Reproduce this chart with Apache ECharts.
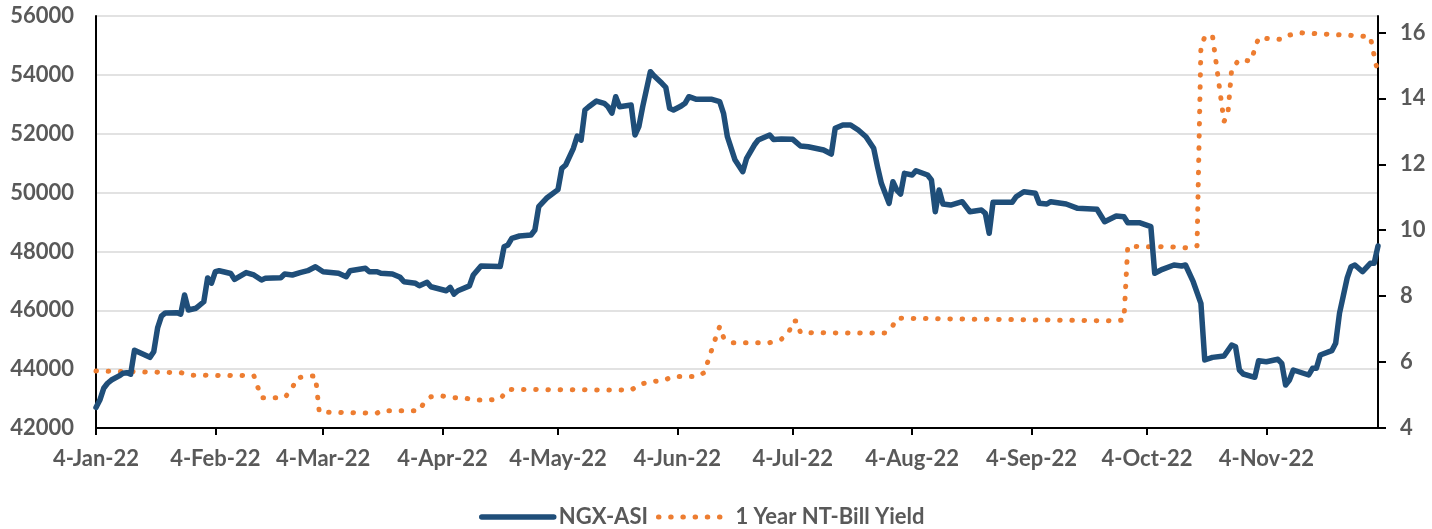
<!DOCTYPE html>
<html>
<head>
<meta charset="utf-8">
<script src="https://cdn.jsdelivr.net/npm/echarts@6/dist/echarts.min.js"></script>
<style>
  html, body { margin: 0; padding: 0; background: #ffffff; }
  #chart { width: 1432px; height: 529px; }
</style>
</head>
<body>
<div id="chart"></div>
<script>
// ---- Data ----
const startDay = '4-Jan-22';
const endDay = '3-Dec-22';
const monthNames = ['Jan','Feb','Mar','Apr','May','Jun','Jul','Aug','Sep','Oct','Nov','Dec'];

const leftTicks = [42000, 44000, 46000, 48000, 50000, 52000, 54000, 56000];
const rightTicks = [4, 6, 8, 10, 12, 14, 16];

const ngxAsi = [
  ['4-Jan-22', 42700], ['5-Jan-22', 42950], ['6-Jan-22', 43350], ['7-Jan-22', 43520],
  ['8-Jan-22', 43630], ['10-Jan-22', 43770], ['11-Jan-22', 43860], ['12-Jan-22', 43880],
  ['13-Jan-22', 43830], ['14-Jan-22', 44640], ['18-Jan-22', 44400], ['19-Jan-22', 44590],
  ['20-Jan-22', 45400], ['21-Jan-22', 45800], ['22-Jan-22', 45910], ['25-Jan-22', 45920],
  ['26-Jan-22', 45870], ['27-Jan-22', 46520], ['28-Jan-22', 46010], ['30-Jan-22', 46070],
  ['1-Feb-22', 46290], ['2-Feb-22', 47100], ['3-Feb-22', 46920], ['4-Feb-22', 47310],
  ['5-Feb-22', 47345], ['8-Feb-22', 47250], ['9-Feb-22', 47050], ['12-Feb-22', 47280],
  ['14-Feb-22', 47200], ['16-Feb-22', 47030], ['17-Feb-22', 47087], ['21-Feb-22', 47107],
  ['22-Feb-22', 47233], ['24-Feb-22', 47199], ['26-Feb-22', 47277], ['28-Feb-22', 47345],
  ['2-Mar-22', 47481], ['4-Mar-22', 47311], ['8-Mar-22', 47256], ['10-Mar-22', 47142],
  ['11-Mar-22', 47345], ['15-Mar-22', 47426], ['16-Mar-22', 47311], ['18-Mar-22', 47311],
  ['19-Mar-22', 47256], ['22-Mar-22', 47233], ['24-Mar-22', 47120], ['25-Mar-22', 46971],
  ['28-Mar-22', 46917], ['29-Mar-22', 46835], ['31-Mar-22', 46950], ['1-Apr-22', 46801],
  ['5-Apr-22', 46665], ['6-Apr-22', 46781], ['7-Apr-22', 46553], ['8-Apr-22', 46665],
  ['11-Apr-22', 46830], ['12-Apr-22', 47199], ['14-Apr-22', 47505], ['19-Apr-22', 47490],
  ['20-Apr-22', 48160], ['21-Apr-22', 48220], ['22-Apr-22', 48446], ['24-Apr-22', 48524],
  ['27-Apr-22', 48558], ['28-Apr-22', 48728], ['29-Apr-22', 49520], ['1-May-22', 49806],
  ['4-May-22', 50100], ['5-May-22', 50825], ['6-May-22', 50937], ['8-May-22', 51505],
  ['9-May-22', 51922], ['10-May-22', 51780], ['11-May-22', 52805], ['12-May-22', 52917],
  ['14-May-22', 53111], ['16-May-22', 53033], ['17-May-22', 52917], ['18-May-22', 52700],
  ['19-May-22', 53257], ['20-May-22', 52917], ['23-May-22', 52975], ['24-May-22', 51956],
  ['25-May-22', 52238], ['26-May-22', 52917], ['28-May-22', 54107], ['29-May-22', 53961],
  ['31-May-22', 53712], ['1-Jun-22', 53577], ['2-Jun-22', 52863], ['3-Jun-22', 52805],
  ['5-Jun-22', 52941], ['6-Jun-22', 53033], ['7-Jun-22', 53257], ['9-Jun-22', 53169],
  ['13-Jun-22', 53169], ['15-Jun-22', 53088], ['16-Jun-22', 52693], ['17-Jun-22', 51898],
  ['19-Jun-22', 51106], ['21-Jun-22', 50709], ['22-Jun-22', 51164], ['24-Jun-22', 51616],
  ['25-Jun-22', 51786], ['28-Jun-22', 51956], ['29-Jun-22', 51800], ['1-Jul-22', 51820],
  ['4-Jul-22', 51809], ['6-Jul-22', 51582], ['8-Jul-22', 51558], ['12-Jul-22', 51446],
  ['14-Jul-22', 51310], ['15-Jul-22', 52183], ['17-Jul-22', 52296], ['19-Jul-22', 52296],
  ['21-Jul-22', 52126], ['23-Jul-22', 51898], ['25-Jul-22', 51505], ['26-Jul-22', 50879],
  ['27-Jul-22', 50315], ['29-Jul-22', 49635], ['30-Jul-22', 50369], ['31-Jul-22', 50087],
  ['1-Aug-22', 49950], ['2-Aug-22', 50654], ['4-Aug-22', 50597], ['5-Aug-22', 50743],
  ['8-Aug-22', 50597], ['9-Aug-22', 50430], ['10-Aug-22', 49350], ['11-Aug-22', 50087],
  ['12-Aug-22', 49611], ['14-Aug-22', 49577], ['17-Aug-22', 49690], ['19-Aug-22', 49350],
  ['22-Aug-22', 49407], ['23-Aug-22', 49295], ['24-Aug-22', 48615], ['25-Aug-22', 49669],
  ['30-Aug-22', 49669], ['31-Aug-22', 49860], ['2-Sep-22', 50030], ['5-Sep-22', 49975],
  ['6-Sep-22', 49635], ['8-Sep-22', 49611], ['9-Sep-22', 49690], ['13-Sep-22', 49611],
  ['16-Sep-22', 49465], ['21-Sep-22', 49431], ['23-Sep-22', 49010], ['26-Sep-22', 49203],
  ['28-Sep-22', 49180], ['29-Sep-22', 48976], ['2-Oct-22', 48976], ['5-Oct-22', 48840],
  ['6-Oct-22', 47260], ['8-Oct-22', 47392], ['11-Oct-22', 47539], ['13-Oct-22', 47505],
  ['14-Oct-22', 47539], ['16-Oct-22', 46971], ['18-Oct-22', 46237], ['19-Oct-22', 44311],
  ['21-Oct-22', 44400], ['24-Oct-22', 44447], ['26-Oct-22', 44820], ['27-Oct-22', 44763],
  ['28-Oct-22', 43971], ['29-Oct-22', 43835], ['1-Nov-22', 43723], ['2-Nov-22', 44287],
  ['4-Nov-22', 44253], ['7-Nov-22', 44334], ['8-Nov-22', 44198], ['9-Nov-22', 43461],
  ['10-Nov-22', 43630], ['11-Nov-22', 43971], ['15-Nov-22', 43801], ['16-Nov-22', 44029],
  ['17-Nov-22', 44029], ['18-Nov-22', 44480], ['21-Nov-22', 44627], ['22-Nov-22', 44878],
  ['23-Nov-22', 45900], ['24-Nov-22', 46500], ['25-Nov-22', 47100], ['26-Nov-22', 47481],
  ['27-Nov-22', 47539], ['29-Nov-22', 47311], ['1-Dec-22', 47596], ['2-Dec-22', 47596],
  ['3-Dec-22', 48184]
];

const tBillYield = [
  ['4-Jan-22', 5.73], ['26-Jan-22', 5.68], ['29-Jan-22', 5.60], ['14-Feb-22', 5.59],
  ['15-Feb-22', 5.25], ['16-Feb-22', 4.92], ['22-Feb-22', 4.92], ['24-Feb-22', 5.20],
  ['25-Feb-22', 5.51], ['27-Feb-22', 5.56], ['2-Mar-22', 5.58], ['3-Mar-22', 4.48],
  ['18-Mar-22', 4.45], ['19-Mar-22', 4.52], ['29-Mar-22', 4.52], ['30-Mar-22', 4.73],
  ['1-Apr-22', 4.95], ['4-Apr-22', 4.97], ['7-Apr-22', 4.92], ['10-Apr-22', 4.90],
  ['13-Apr-22', 4.85], ['16-Apr-22', 4.85], ['19-Apr-22', 4.88], ['21-Apr-22', 5.17],
  ['23-May-22', 5.15], ['25-May-22', 5.31], ['28-May-22', 5.41], ['31-May-22', 5.43],
  ['3-Jun-22', 5.56], ['9-Jun-22', 5.56], ['11-Jun-22', 5.68], ['12-Jun-22', 6.04],
  ['13-Jun-22', 6.40], ['14-Jun-22', 6.75], ['15-Jun-22', 7.08], ['16-Jun-22', 6.75],
  ['18-Jun-22', 6.59], ['28-Jun-22', 6.59], ['1-Jul-22', 6.69], ['3-Jul-22', 6.91],
  ['4-Jul-22', 7.25], ['5-Jul-22', 7.25], ['6-Jul-22', 6.89], ['28-Jul-22', 6.88],
  ['30-Jul-22', 7.11], ['31-Jul-22', 7.33], ['26-Sep-22', 7.25], ['28-Sep-22', 7.28],
  ['29-Sep-22', 9.51], ['12-Oct-22', 9.49], ['15-Oct-22', 9.46], ['17-Oct-22', 9.53],
  ['18-Oct-22', 15.55], ['19-Oct-22', 15.87], ['21-Oct-22', 15.91], ['24-Oct-22', 13.30],
  ['25-Oct-22', 13.53], ['26-Oct-22', 14.90], ['28-Oct-22', 15.18], ['31-Oct-22', 15.13],
  ['1-Nov-22', 15.50], ['2-Nov-22', 15.84], ['5-Nov-22', 15.81], ['8-Nov-22', 15.79],
  ['10-Nov-22', 15.92], ['13-Nov-22', 15.99], ['19-Nov-22', 15.95], ['25-Nov-22', 15.92],
  ['1-Dec-22', 15.87], ['2-Dec-22', 15.30], ['3-Dec-22', 14.75]
];

// ---- Build the daily category axis (calendar days) ----
function parseDay(s) {
  const p = s.split('-');
  return Date.UTC(2000 + Number(p[2]), monthNames.indexOf(p[1]), Number(p[0]));
}
function fmtDay(t) {
  const d = new Date(t);
  return d.getUTCDate() + '-' + monthNames[d.getUTCMonth()] + '-' + String(d.getUTCFullYear()).slice(2);
}
const categories = [];
for (let t = parseDay(startDay); t <= parseDay(endDay); t += 86400000) categories.push(fmtDay(t));
const catIndex = {};
categories.forEach((c, i) => { catIndex[c] = i; });
const toPoints = arr => arr.map(([d, v]) => [catIndex[d], v]);
const isMonthTick = (i, v) => /^4-/.test(v);

const FONT = 'Lato';
const GREY = '#595959';
const BLUE = '#1F4E79';
const ORANGE = '#ED7D31';
const DOTS = [0.5, 11.7];

const chart = echarts.init(document.getElementById('chart'), null, { renderer: 'canvas' });
chart.setOption({
  animation: false,
  backgroundColor: '#ffffff',
  grid: { left: 96, right: 54, top: 16, bottom: 101 },
  legend: {
    left: 479, top: 506, padding: 0,
    itemWidth: 72, itemHeight: 22, itemGap: 8,
    itemStyle: { opacity: 0 },
    textStyle: { color: GREY, fontFamily: FONT, fontWeight: 'bold', fontSize: 22 },
    data: [
      { name: 'NGX-ASI', lineStyle: { width: 5.5, color: BLUE, cap: 'round' } },
      { name: '1 Year NT-Bill Yield', lineStyle: { width: 5, color: ORANGE, type: DOTS, cap: 'round' } }
    ]
  },
  xAxis: {
    type: 'category',
    data: categories,
    boundaryGap: false,
    axisLine: { lineStyle: { color: '#000', width: 2 } },
    axisTick: { show: true, interval: isMonthTick, length: 7, lineStyle: { color: '#000', width: 2 } },
    axisLabel: {
      interval: isMonthTick, margin: 20,
      color: GREY, fontFamily: FONT, fontWeight: 'bold', fontSize: 22
    },
    splitLine: { show: false }
  },
  yAxis: [
    {
      type: 'value', position: 'left',
      min: leftTicks[0], max: leftTicks[leftTicks.length - 1], interval: 2000,
      axisLine: { show: true, lineStyle: { color: '#000', width: 2 } },
      axisTick: { show: false },
      axisLabel: {
        margin: 22, color: GREY, fontFamily: FONT, fontWeight: 'bold', fontSize: 22,
        formatter: v => String(v)
      },
      splitLine: { show: true, lineStyle: { color: '#D9D9D9', width: 1.5 } }
    },
    {
      type: 'value', position: 'right',
      min: 4, max: 16.5, interval: 2,
      axisLine: { show: true, lineStyle: { color: '#000', width: 2 } },
      axisTick: { show: true, length: 8, customValues: rightTicks, lineStyle: { color: '#000', width: 2 } },
      axisLabel: {
        margin: 22, customValues: rightTicks, color: GREY, fontFamily: FONT, fontWeight: 'bold', fontSize: 22,
        formatter: v => String(v)
      },
      splitLine: { show: false }
    }
  ],
  series: [
    {
      name: 'NGX-ASI', type: 'line', yAxisIndex: 0,
      data: toPoints(ngxAsi),
      symbol: 'none', smooth: false,
      itemStyle: { color: BLUE },
      lineStyle: { color: BLUE, width: 5.5, join: 'round', cap: 'round' },
      z: 3
    },
    {
      name: '1 Year NT-Bill Yield', type: 'line', yAxisIndex: 1,
      data: toPoints(tBillYield),
      symbol: 'none', smooth: false,
      itemStyle: { color: ORANGE },
      lineStyle: { color: ORANGE, width: 5, type: DOTS, cap: 'round', join: 'round' },
      z: 2
    }
  ]
});
</script>
</body>
</html>
